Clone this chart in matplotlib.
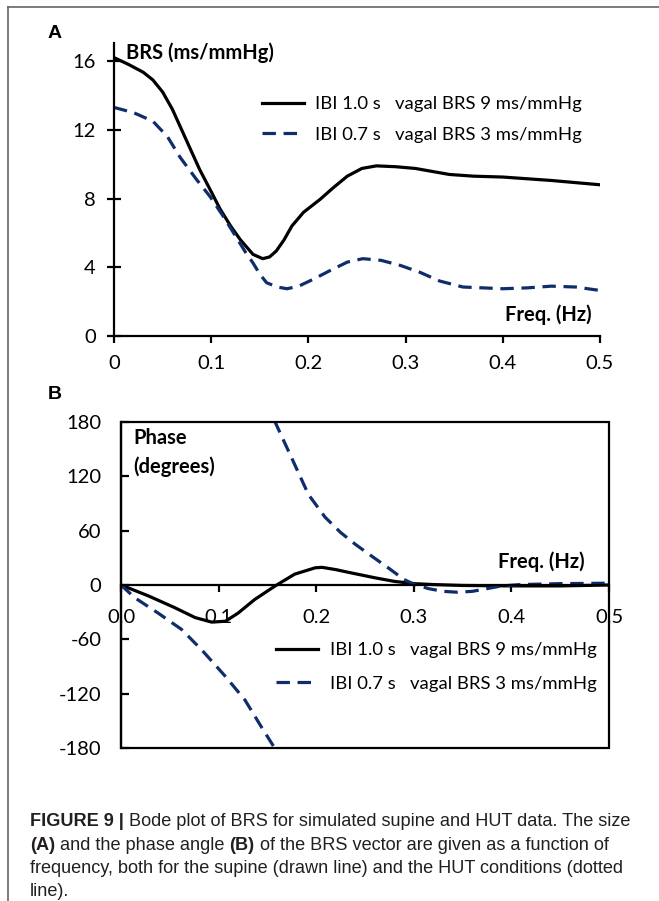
import matplotlib
matplotlib.use('Agg')
import matplotlib.pyplot as plt
from matplotlib.patches import Rectangle
from matplotlib.lines import Line2D

plt.rcParams['font.family'] = ['Lato', 'DejaVu Sans']
plt.rcParams['axes.unicode_minus'] = False

# panel A: size of BRS (ms/mmHg) vs frequency (Hz)
freq_sup_a = [0.000, 0.015, 0.030, 0.040, 0.050, 0.060, 0.068, 0.080, 0.088, 0.100,
              0.109, 0.120, 0.130, 0.143, 0.153, 0.160, 0.167, 0.175, 0.183, 0.195,
              0.212, 0.225, 0.240, 0.255, 0.270, 0.290, 0.310, 0.330, 0.345, 0.370,
              0.400, 0.450, 0.500]
brs_sup = [16.2, 15.8, 15.35, 14.9, 14.2, 13.2, 12.2, 10.7, 9.7, 8.4,
           7.4, 6.4, 5.6, 4.75, 4.5, 4.6, 4.95, 5.6, 6.4, 7.2,
           7.95, 8.6, 9.3, 9.75, 9.9, 9.85, 9.75, 9.55, 9.4, 9.3,
           9.25, 9.05, 8.8]

freq_hut_a = [0.000, 0.020, 0.040, 0.055, 0.068, 0.085, 0.099, 0.112, 0.123, 0.135,
              0.143, 0.150, 0.157, 0.168, 0.178, 0.190, 0.205, 0.222, 0.240, 0.256,
              0.275, 0.295, 0.315, 0.335, 0.359, 0.380, 0.400, 0.425, 0.450, 0.475,
              0.500]
brs_hut = [13.3, 13.0, 12.5, 11.6, 10.4, 9.1, 8.1, 7.0, 6.0, 4.9,
           4.25, 3.6, 3.1, 2.85, 2.75, 2.9, 3.3, 3.8, 4.3, 4.5,
           4.4, 4.1, 3.7, 3.2, 2.85, 2.8, 2.75, 2.8, 2.9, 2.85,
           2.65]

# panel B: phase (degrees) vs frequency (Hz)
freq_sup_b = [0.000, 0.028, 0.055, 0.076, 0.093, 0.107, 0.120, 0.137, 0.158, 0.178,
              0.199, 0.206, 0.220, 0.233, 0.260, 0.280, 0.300, 0.320, 0.350, 0.400,
              0.450, 0.500]
phase_sup = [0, -12, -25, -36, -41, -40, -31, -16, -1, 12,
             19, 19.5, 17, 14, 8, 4, 1.5, 0.5, -0.5, -1,
             -1, 0]

# HUT phase wraps from -180 to +180 near 0.157 Hz
freq_hut_lo = [0.000, 0.014, 0.038, 0.062, 0.083, 0.107, 0.127, 0.144, 0.158]
phase_hut_lo = [0, -14, -31, -49, -72, -101, -127, -157, -181]
freq_hut_hi = [0.157, 0.175, 0.192, 0.209, 0.225, 0.240, 0.258, 0.275, 0.290, 0.300,
               0.315, 0.330, 0.345, 0.360, 0.375, 0.390, 0.410, 0.450, 0.500]
phase_hut_hi = [182, 140, 100, 75, 58, 45, 31, 18, 6, 1,
                -4, -7, -8, -7, -4, -1, 0.5, 1.5, 2]

lab_sup = 'IBI 1.0 s   vagal BRS 9 ms/mmHg'
lab_hut = 'IBI 0.7 s   vagal BRS 3 ms/mmHg'

navy = '#0f2d6b'
W, H = 659, 901
fs = 14.5
leg_fs = 13.3


def fx(px):
    return px / W


def fy(py):
    return 1 - py / H


fig = plt.figure(figsize=(W / 100, H / 100), dpi=100)

# ---- panel A
axA = fig.add_axes([fx(114), fy(336), fx(600) - fx(114), fy(43) - fy(336)])
axA.plot(freq_sup_a, brs_sup, color='black', lw=2.3, label=lab_sup)
axA.plot(freq_hut_a, brs_hut, color=navy, lw=2.3, dashes=(4.2, 2.4), label=lab_hut)
axA.set_xlim(0, 0.5)
axA.set_ylim(0, 17.05)
axA.set_xticks([0, 0.1, 0.2, 0.3, 0.4, 0.5])
axA.set_xticklabels(['0', '0.1', '0.2', '0.3', '0.4', '0.5'])
axA.set_yticks([0, 4, 8, 12, 16])
axA.spines[['top', 'right']].set_visible(False)
for s in axA.spines.values():
    s.set_linewidth(1.6)
axA.tick_params(axis='x', direction='out', length=5, width=1.6, pad=9, labelsize=fs)
axA.tick_params(axis='y', direction='inout', length=10, width=1.6, pad=8, labelsize=fs)
axA.legend(loc='upper left', bbox_to_anchor=(fx(262), fy(96)), bbox_transform=fig.transFigure,
           frameon=False, fontsize=leg_fs, handlelength=2.3, handletextpad=0.55,
           labelspacing=0.8, borderpad=0, borderaxespad=0)

# ---- panel B
axB = fig.add_axes([fx(121), fy(748), fx(609) - fx(121), fy(422) - fy(748)])
axB.plot(freq_sup_b, phase_sup, color='black', lw=2.3, label=lab_sup)
axB.plot(freq_hut_lo, phase_hut_lo, color=navy, lw=2.3, dashes=(4.2, 2.4), label=lab_hut)
axB.plot(freq_hut_hi, phase_hut_hi, color=navy, lw=2.3, dashes=(4.2, 2.4))
axB.set_xlim(0, 0.5)
axB.set_ylim(-180, 180)
axB.set_xticks([0, 0.1, 0.2, 0.3, 0.4, 0.5])
axB.set_xticklabels(['0.0', '0.1', '0.2', '0.3', '0.4', '0.5'])
axB.set_yticks([-180, -120, -60, 0, 60, 120, 180])
axB.spines['bottom'].set_position(('data', 0))
axB.spines['top'].set_visible(False)
axB.spines['right'].set_visible(False)
for s in axB.spines.values():
    s.set_linewidth(1.6)
axB.add_patch(Rectangle((0, 0), 1, 1, transform=axB.transAxes, fill=False,
                        lw=1.6, ec='black', clip_on=False, zorder=3))
axB.tick_params(axis='x', direction='out', length=5, width=1.6, pad=12, labelsize=fs)
axB.tick_params(axis='y', direction='in', length=6, width=1.6, pad=14, labelsize=fs)
axB.legend(loc='upper left', bbox_to_anchor=(fx(276), fy(642)), bbox_transform=fig.transFigure,
           frameon=False, fontsize=leg_fs, handlelength=2.3, handletextpad=0.65,
           labelspacing=0.95, borderpad=0, borderaxespad=0)

# axis titles inside the plots
bold = dict(weight='bold', fontsize=fs, color='black')
fig.text(fx(126), fy(53), 'BRS (ms/mmHg)', ha='left', va='center', **bold)
fig.text(fx(592), fy(315), 'Freq. (Hz)', ha='right', va='center', **bold)
fig.text(fx(133), fy(438), 'Phase', ha='left', va='center', **bold)
fig.text(fx(133), fy(467), '(degrees)', ha='left', va='center', **bold)
fig.text(fx(585), fy(562), 'Freq. (Hz)', ha='right', va='center', **bold)

fig.text(fx(48), fy(34), 'A', ha='left', va='center', weight='bold', fontsize=14,
         family='Liberation Sans')
fig.text(fx(48), fy(395), 'B', ha='left', va='center', weight='bold', fontsize=14,
         family='Liberation Sans')

# page frame (left and top rules)
fig.add_artist(Line2D([fx(8), fx(8)], [fy(7), 0], color='#666666', lw=1.2))
fig.add_artist(Line2D([fx(8), 1], [fy(7), fy(7)], color='#666666', lw=1.2))

# caption with bold pieces
caption = [
    [('FIGURE 9 |', True), (' Bode plot of BRS for simulated supine and HUT data. The size', False)],
    [('(A)', True), (' and the phase angle ', False), ('(B)', True),
     (' of the BRS vector are given as a function of', False)],
    [('frequency, both for the supine (drawn line) and the HUT conditions (dotted', False)],
    [('line).', False)],
]
renderer = fig.canvas.get_renderer()
cap_fam = 'Liberation Sans'


def draw_caption(size):
    arts, widths = [], []
    for i, parts in enumerate(caption):
        x = 30
        for txt, b in parts:
            t = fig.text(fx(x), fy(826 + 23.5 * i), txt, fontsize=size, family=cap_fam,
                         weight='bold' if b else 'normal', color='#231f20', va='baseline')
            x += t.get_window_extent(renderer).width
            arts.append(t)
        widths.append(x - 30)
    return arts, widths


arts, widths = draw_caption(11)
for a in arts:
    a.remove()
draw_caption(11 * 598 / widths[0])

fig.savefig('out.png', dpi=100)
